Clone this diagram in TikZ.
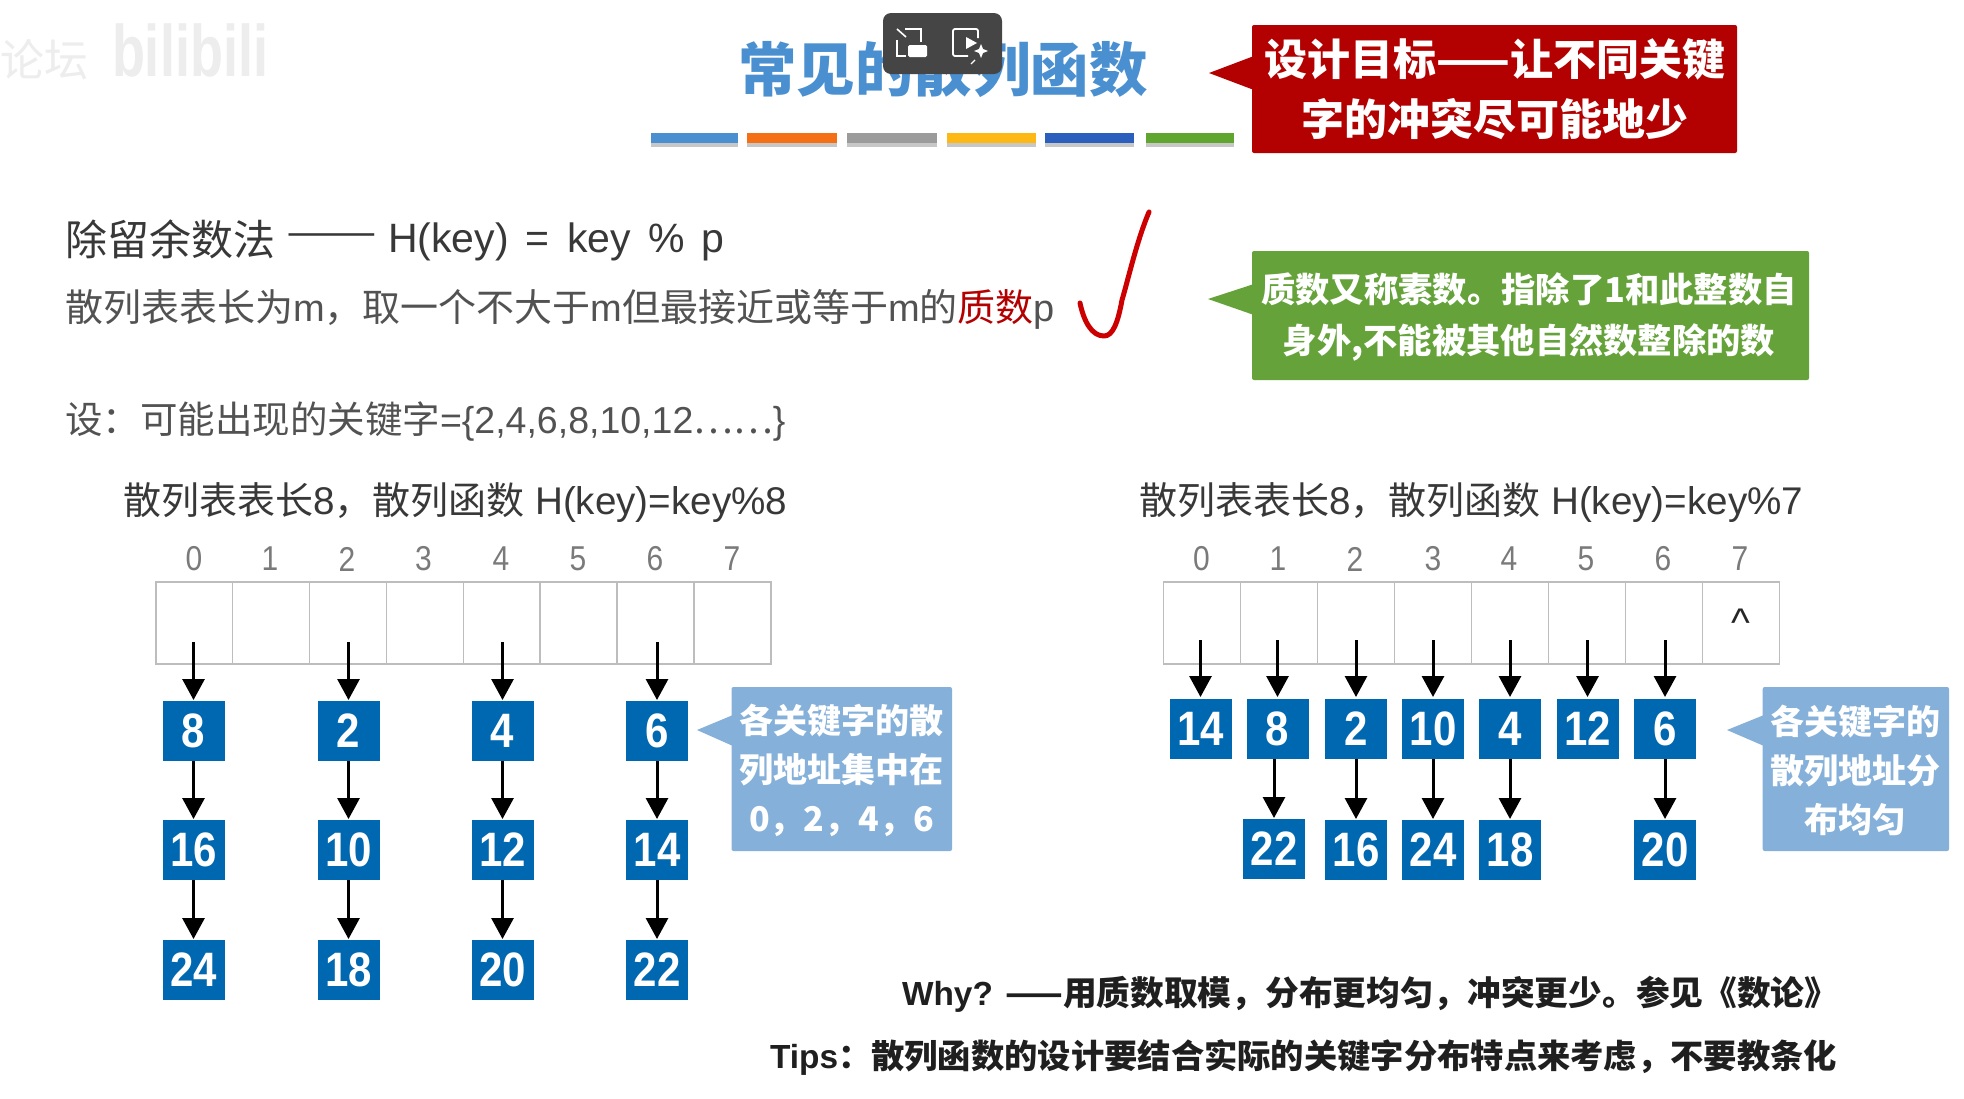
\documentclass[tikz,border=0pt]{standalone}
\usepackage{fontspec}
\usepackage{graphicx}
\usetikzlibrary{arrows.meta}
\setmainfont{Liberation Sans}
\newfontfamily\cjk{Noto Sans CJK SC}
\newcommand{\cj}[1]{{\cjk #1}}
\newcommand{\fs}[1]{\fontsize{#1}{#1}\selectfont}
\newcommand{\tall}[1]{\scalebox{1}[1.15]{#1}}
\definecolor{boxblue}{HTML}{0068B0}
\definecolor{callblue}{HTML}{85B0D9}
\definecolor{callgreen}{HTML}{65A33A}
\definecolor{callred}{HTML}{B30000}
\definecolor{titleblue}{HTML}{4A90D0}
\definecolor{tline}{HTML}{BDBDBD}
\tikzset{
  every node/.style={inner sep=0pt,outer sep=0pt},
  keybox/.style={fill=boxblue,text=white,minimum width=62pt,minimum height=60pt,font=\bfseries\fs{42}},
  cell/.style={draw=tline,line width=1.6pt,fill=white,minimum width=76.9pt,minimum height=82pt},
  idx/.style={text=black!52,font=\fs{30}},
  arr/.style={-{Triangle[width=22pt,length=21pt]},line width=3pt,black,shorten >=1pt},
  calltext/.style={text=white,align=center},
  head/.style={anchor=west,text=black!78,font=\fs{38.6}},
  body/.style={anchor=west,text=black!68,font=\fs{38}},
  note/.style={anchor=west,text=black!88,font=\fs{33.4}\bfseries},
}
\begin{document}
\begin{tikzpicture}[x=1pt,y=-1pt]
\useasboundingbox (0,0) rectangle (1964,1098);
\fill[white] (0,0) rectangle (1964,1098);

% watermark
\node[anchor=west,text=black!7,font=\fs{44}] (wm1) at (0,60) {\cj{论坛}};
\node[anchor=west,text=black!7,font=\fs{54}\bfseries] (wm2) at (112,50) {\scalebox{1}[1.35]{bilibili}};

% title
\node[text=titleblue,font=\fs{58.5}] (title) at (943,70) {\cj{\bfseries 常见的散列函数}};
\foreach \xa/\xb/\c in {651/738/4A90D0,747/837/F57014,847/937/9B9B9B,947/1036/FDB813,1045/1134/2A5FBE,1146/1234/5FA52E}{
  \definecolor{barc}{HTML}{\c}
  \fill[black!22] (\xa,137) rectangle (\xb,147);
  \fill[barc] (\xa,133) rectangle (\xb,143);
}

% toolbar overlay
\fill[black!73,rounded corners=8pt] (883,13) rectangle (1002,74);
\draw[white,line width=1.8pt] (905,29) -- (921,29) -- (921,42);
\draw[white,line width=1.8pt] (906,56) -- (897,56) -- (897,40);
\draw[white,line width=1.6pt] (897,29) -- (906,37);
\fill[white,rounded corners=1.5pt] (908,45) rectangle (927,57);
\draw[white,line width=1.8pt,rounded corners=2pt] (978,38) -- (978,29) -- (953,29) -- (953,56) -- (968,56);
\fill[white] (966,37) -- (977,43) -- (966,49) -- cycle;
\fill[white] (981,44) -- (983,49) -- (988,51) -- (983,53) -- (981,58) -- (979,53) -- (974,51) -- (979,49) -- cycle;
\draw[white,line width=1.2pt] (975,60) -- (971,64);

% red callout
\fill[callred,rounded corners=2pt] (1252,25) rectangle (1737,153);
\fill[callred] (1254,56) -- (1209,73) -- (1254,90) -- cycle;
\node[calltext,font=\fontsize{43}{60}\selectfont\cjk\bfseries] (redtext) at (1495,89) {设计目标——让不同关键\\字的冲突尽可能地少};

% heading lines
\node[head,font=\fs{42}] (h1a) at (65,239.5) {\cj{除留余数法}};
\node[head,font=\fs{41}] (h1b) at (286,240.5) {\scalebox{1.32}[1]{\cj{——}}};
\node[head,font=\fs{41}] (h1c) at (388,241.5) {\spaceskip=0.42em H(key) = key \% p};
\node[body] (h2) at (65,309) {\cj{散列表表长为}m\cj{，取一个不大于}m\cj{但最接近或等于}m\cj{的}\textcolor{callred}{\cj{质数}}p};
\node[body,font=\fs{37.5}] (h3) at (65,422) {\cj{设：可能出现的关键字}=\{2,4,6,8,10,12\cj{……}\}};
\node[head] (h4) at (123,502.5) {\cj{\fs{38}散列表表长}8\cj{\fs{38}，散列函数} H(key)=key\%8};
\node[head] (h5) at (1139,502.5) {\cj{\fs{38}散列表表长}8\cj{\fs{38}，散列函数} H(key)=key\%7};

% check mark
\draw[red!80!black,line width=5pt,line cap=round,line join=round]
  (1149,212) .. controls (1137,240) and (1128,280) .. (1122,300)
  .. controls (1118,322) and (1113,336) .. (1104,336)
  .. controls (1092,336) and (1084,322) .. (1080,303);

% green callout
\fill[callgreen,rounded corners=2pt] (1252,251) rectangle (1809,380);
\fill[callgreen] (1254,284) -- (1208,299) -- (1254,315) -- cycle;
\node[calltext,font=\fontsize{34.3}{51}\selectfont\cjk\bfseries] (greentext) at (1529,317) {质数又称素数。指除了1和此整数自\\身外,不能被其他自然数整除的数};

% left table
\foreach \i/\lx in {0/194,1/270,2/347,3/423.5,4/501,5/578,6/655,7/732}{
  \node[idx] (li\i) at (\lx,559) {\tall{\i}};
}
\foreach \i/\cx in {0/194.2,1/271.1,2/348,3/424.9,4/501.8,5/578.7,6/655.6,7/732.5}{
  \node[cell] (lc\i) at (\cx,623) {};
}
\foreach \n/\x/\y/\t in {b8/193.5/731/8,b2/348.5/731/2,b4/502.5/731/4,b6/657/731/6,
  b16/193.5/850/16,b10/348.5/850/10,b12/502.5/850/12,b14/657/850/14,
  b24/193.5/970/24,b18/348.5/970/18,b20/502.5/970/20,b22/657/970/22}{
  \node[keybox] (\n) at (\x,\y) {\tall{\t}};
}
\coordinate (ls0) at (193.5,642);
\coordinate (ls2) at (348.5,642);
\coordinate (ls4) at (502.5,642);
\coordinate (ls6) at (657,642);
\draw[arr] (ls0) -- (b8);
\draw[arr] (ls2) -- (b2);
\draw[arr] (ls4) -- (b4);
\draw[arr] (ls6) -- (b6);
\foreach \a/\b in {b8/b16,b2/b10,b4/b12,b6/b14,b16/b24,b10/b18,b12/b20,b14/b22}{
  \draw[arr] (\a) -- (\b);
}

% left blue callout
\fill[callblue,rounded corners=2pt] (731.5,687) rectangle (952,851);
\fill[callblue] (733,715) -- (697,730) -- (733,746) -- cycle;
\node[calltext,font=\fontsize{34}{49}\selectfont\cjk\bfseries] (lcall) at (841.5,770) {各关键字的散\\列地址集中在\\0，2，4，6};

% right table
\foreach \i/\lx in {0/1201.5,1/1278,2/1355,3/1433,4/1509,5/1586,6/1663,7/1740}{
  \node[idx] (ri\i) at (\lx,559) {\tall{\i}};
}
\foreach \i/\cx in {0/1202,1/1279,2/1356,3/1433,4/1510,5/1587,6/1664,7/1741}{
  \node[cell] (rc\i) at (\cx,623) {};
}
\node[font=\fs{40},text=black!85] (nil) at (1740.5,623) {\textasciicircum};
\foreach \n/\x/\y/\t in {c14/1200.5/729/14,c8/1277.5/729/8,c2/1356/729/2,c10/1433/729/10,c4/1510/729/4,c12/1587.5/729/12,c6/1665/729/6,
  c22/1274/849/22,c16/1356/850/16,c24/1433/850/24,c18/1510/850/18,c20/1665/850/20}{
  \node[keybox] (\n) at (\x,\y) {\tall{\t}};
}
\foreach \n/\x in {14/1200.5,8/1277.5,2/1356,10/1433,4/1510,12/1587.5,6/1665}{
  \coordinate (rs\n) at (\x,640);
  \draw[arr,shorten >=2pt] (rs\n) -- (c\n);
}
\foreach \a/\b in {c8/c22,c2/c16,c10/c24,c4/c18,c6/c20}{
  \draw[arr] (\a.south -| \b.north) -- (\b);
}

% right blue callout
\fill[callblue,rounded corners=2pt] (1762.7,687) rectangle (1949,851);
\fill[callblue] (1764,715) -- (1727,730) -- (1764,746) -- cycle;
\node[calltext,font=\fontsize{34}{49}\selectfont\cjk\bfseries] (rcall) at (1855,770) {各关键字的\\散列地址分\\布均匀};

% notes
\node[note] (why) at (902,994.5) {Why? \cj{\fs{33.7}\bfseries ——用质数取模，分布更均匀，冲突更少。参见《数论》}};
\node[note] (tips) at (770,1057.5) {Tips\cj{\fs{33.3}\bfseries ：散列函数的设计要结合实际的关键字分布特点来考虑，不要教条化}};
\end{tikzpicture}
\end{document}
